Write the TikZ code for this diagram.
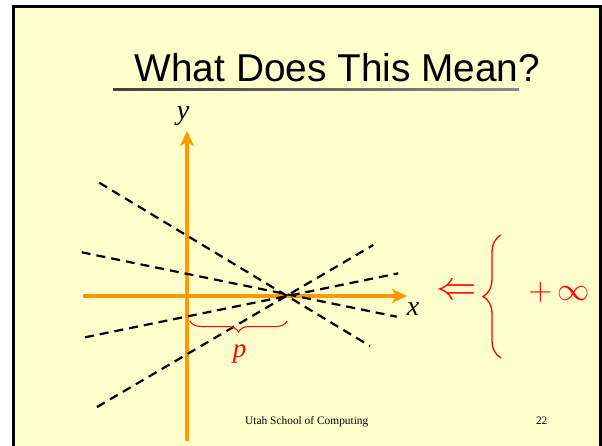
\documentclass[tikz,border=0pt]{standalone}
\usepackage{fontspec}
\setmainfont{Liberation Serif}
\newfontfamily\titlefont{Liberation Sans}
\usetikzlibrary{arrows.meta,decorations.pathreplacing}
\definecolor{slidebg}{HTML}{FFFFCC}
\definecolor{axisorange}{HTML}{FF9900}
\definecolor{mathred}{HTML}{FF0000}
\tikzset{
  axisline/.style={axisorange, line width=4pt, -{Stealth[length=15pt,width=14pt,inset=4pt]}},
  dashline/.style={black, line width=2.2pt, dash pattern=on 9pt off 6pt},
  lbl/.style={inner sep=0pt, anchor=base},
}
\begin{document}
\begin{tikzpicture}[x=1pt,y=-1pt]
\useasboundingbox (0,0) rectangle (602,445);
\clip (0,0) rectangle (602,445);
% slide frame
\draw[line width=3pt, fill=slidebg] (13.5,6) rectangle (600.5,470);
% title
\node[inner sep=0pt, anchor=base west] (title) at (134.5,81.7)
  {\titlefont\fontsize{38.8}{40}\selectfont What Does This Mean?};
\shade[left color=black!75, right color=black!45] (113,88) rectangle (519,90.3);
% axes
\coordinate (ybot) at (187,441);
\coordinate (ytop) at (187,131);
\coordinate (xl) at (83,296);
\coordinate (xr) at (407,296);
\draw[axisline] (ybot) -- (ytop);
\draw[axisline] (xl) -- (xr);
\node[lbl] (ylab) at (183,119) {\fontsize{28}{28}\selectfont\itshape y};
\node[lbl] (xlab) at (413,315) {\fontsize{28}{28}\selectfont\itshape x};
% dashed lines through one point
\coordinate (a1) at (81.7,252.3); \coordinate (b1) at (396.7,316.7);
\coordinate (a2) at (85,337.3);   \coordinate (b2) at (398.3,273.3);
\coordinate (a3) at (97,407);     \coordinate (b3) at (373.3,245);
\coordinate (a4) at (99.3,182.7); \coordinate (b4) at (370,346);
\draw[dashline] (a1) -- (b1);
\draw[dashline] (a2) -- (b2);
\draw[dashline] (a3) -- (b3);
\draw[dashline] (a4) -- (b4);
% brace p
\coordinate (pl) at (190,321);
\coordinate (pr) at (287,321);
\draw[mathred, line width=1pt, decorate, decoration={brace, mirror, amplitude=11pt}] (pl) -- (pr);
\node[lbl, text=mathred] (plab) at (239.5,357) {\fontsize{27}{27}\selectfont\itshape p};
% implication and big brace
\node[inner sep=0pt, text=mathred] (impl) at (456.5,292) {\scalebox{1.62}{\Huge$\Leftarrow$}};
\coordinate (bb) at (501,358);
\coordinate (bt) at (501,235);
\draw[mathred, line width=1.3pt, decorate, decoration={brace, amplitude=18pt}] (bb) -- (bt);
\node[inner sep=0pt, text=mathred] (inf) at (559.5,292) {\scalebox{1.3}{\Huge$+\,\infty$}};
% footer
\node[inner sep=0pt, anchor=base west] (foot) at (245,424.5) {\fontsize{11.4}{12}\selectfont Utah School of Computing};
\node[inner sep=0pt, anchor=base] (pnum) at (541.7,424.5) {\fontsize{11.4}{12}\selectfont 22};
\end{tikzpicture}
\end{document}
